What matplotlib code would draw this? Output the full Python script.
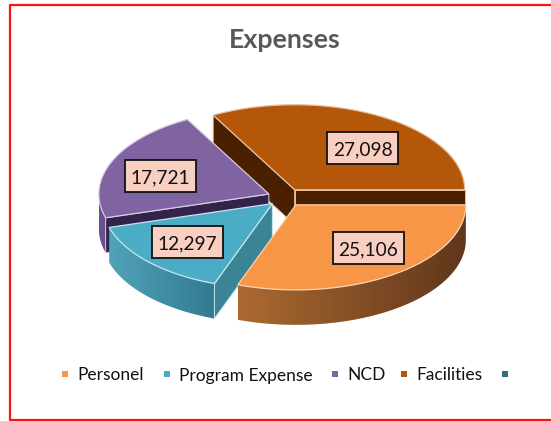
import numpy as np
import matplotlib
matplotlib.use("Agg")
import matplotlib.pyplot as plt
from matplotlib.colors import LinearSegmentedColormap
from matplotlib.patches import Polygon, Rectangle
from matplotlib.lines import Line2D

title = "Expenses"
categories = ["Personel", "Program Expense", "NCD", "Facilities", ""]
values = [25106, 12297, 17721, 27098]
value_labels = ["25,106", "12,297", "17,721", "27,098"]
label_centers = [(368, 248), (187, 242), (160, 176), (362.5, 148)]
legend_x = [65, 167, 335, 404, 505]

top_colors = ["#F79646", "#4BACC6", "#8064A2", "#B45708", "#2F6F82"]
face_colors = ["#63391B", "#3B8496", "#33234A", "#4A2000"]
side_left = ["#AC6A31", "#50A3B9", "#6A5090", "#7A3C06"]
side_right = ["#5F371B", "#337A90", "#6A5090", "#7A3C06"]
edge_colors = ["#FBD3B0", "#C8E6EE", "#D5CAE2", "#E5BFA0"]

CX, CY, RX, RY, DEPTH, EXPLODE = 285.5, 197.5, 170, 85, 35, 18

plt.rcParams["font.family"] = ["Lato", "DejaVu Sans"]
fig = plt.figure(figsize=(5.51, 4.21), dpi=100)
ax = fig.add_axes([0, 0, 1, 1])
ax.set_xlim(0, 551)
ax.set_ylim(421, 0)
ax.axis("off")


def rim(cx, cy, t):
    return cx + RX * np.cos(t), cy - RY * np.sin(t)


fractions = np.array(values) / sum(values)
ends = -np.cumsum(fractions) * 2 * np.pi
starts = np.concatenate([[0], ends[:-1]])

slices = []
for i in range(len(values)):
    lo, hi = ends[i], starts[i]
    mid = (lo + hi) / 2
    slices.append((i, lo, hi, CX + EXPLODE * np.cos(mid), CY - EXPLODE * 0.5 * np.sin(mid)))

# painter's order: back slices first
for z, (i, lo, hi, cx, cy) in enumerate([slices[3], slices[2], slices[1], slices[0]], start=2):
    # outer wall, smooth left-to-right shading clipped to the wall outline
    ts = np.linspace(lo, hi, 240)
    vis = ts[np.sin(ts) < 0]
    if len(vis) > 1:
        xs, ys = rim(cx, cy, vis)
        outline = list(zip(xs, ys)) + list(zip(xs[::-1], ys[::-1] + DEPTH))
        wall = Polygon(outline, closed=True, fc="none", ec="none", transform=ax.transData)
        ax.add_patch(wall)
        cmap = LinearSegmentedColormap.from_list("w", [side_left[i], side_right[i]])
        im = ax.imshow(np.linspace(0, 1, 256).reshape(1, -1), cmap=cmap, aspect="auto",
                       extent=(xs.min(), xs.max(), ys.max() + DEPTH, ys.min()), zorder=z)
        im.set_clip_path(wall)
    # radial faces
    for a, normal in ((lo, lo - np.pi / 2), (hi, hi + np.pi / 2)):
        if np.sin(normal) < 0:
            x, y = rim(cx, cy, a)
            ax.add_patch(Polygon([(cx, cy), (x, y), (x, y + DEPTH), (cx, cy + DEPTH)],
                                 closed=True, fc=face_colors[i], ec=edge_colors[i], lw=0.7, zorder=z + 0.2))
    # top
    xs, ys = rim(cx, cy, np.linspace(lo, hi, 160))
    pts = [(cx, cy)] + list(zip(xs, ys))
    ax.add_patch(Polygon(pts, closed=True, fc=top_colors[i], ec=edge_colors[i], lw=0.9, zorder=z + 0.5))

ax.set_xlim(0, 551)
ax.set_ylim(421, 0)

# data labels
for txt, (lx, ly) in zip(value_labels, label_centers):
    ax.add_patch(Rectangle((lx - 35.5, ly - 16), 71, 32, fc="#F8CFC0", ec="#111111", lw=1.3, zorder=10))
    ax.text(lx, ly, txt, ha="center", va="center_baseline", fontsize=13.8, color="#111111", zorder=11)

ax.text(285, 39.5, title, ha="center", va="center", fontsize=19.3, fontweight="bold", color="#595959")

# legend
for name, color, x in zip(categories, top_colors, legend_x):
    ax.add_patch(Rectangle((x - 3, 371), 6, 6, fc=color, ec="none"))
    if name:
        ax.text(x + 12, 374, name, ha="left", va="center_baseline", fontsize=12.5, color="#111111")

# red frame
red = dict(color="#FF1010", lw=1.6, solid_capstyle="butt")
ax.add_line(Line2D([551, 10, 10, 551], [5, 5, 420, 420], **red))

fig.savefig("out.png", dpi=100)
